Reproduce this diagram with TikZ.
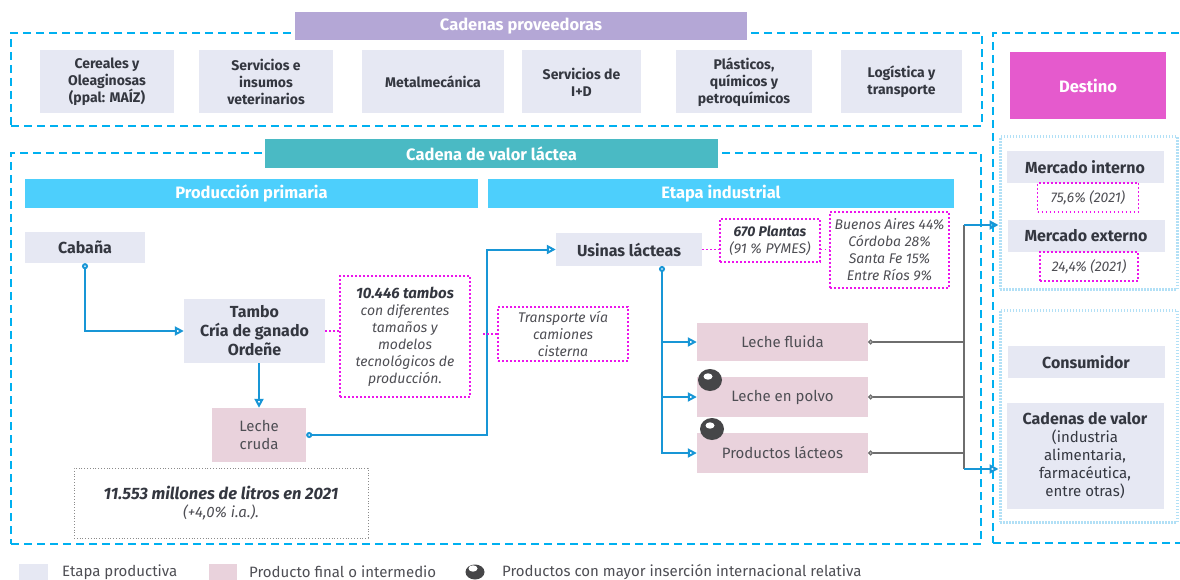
\documentclass[tikz,border=0pt]{standalone}
\usepackage{fontspec}
\setmainfont{Fira Sans}
\usetikzlibrary{arrows.meta,shapes.geometric}

\definecolor{etapa}{RGB}{230,232,243}
\definecolor{producto}{RGB}{233,210,220}
\definecolor{lila}{RGB}{180,167,214}
\definecolor{verdeagua}{RGB}{74,186,196}
\definecolor{celeste}{RGB}{77,207,252}
\definecolor{cian}{RGB}{0,176,240}
\definecolor{cianclaro}{RGB}{178,224,246}
\definecolor{fucsia}{RGB}{236,20,236}
\definecolor{destino}{RGB}{229,90,205}
\definecolor{azul}{RGB}{24,150,214}
\definecolor{gris}{RGB}{110,110,110}
\definecolor{texto}{RGB}{52,55,64}
\definecolor{textonota}{RGB}{78,78,84}
\definecolor{bola}{RGB}{70,70,72}

\begin{document}
\begin{tikzpicture}[x=1pt,y=-1pt,
    every node/.style={inner sep=0pt, align=center, text=texto},
    caja/.style 2 args={minimum width=#1pt, minimum height=#2pt},
    etapa/.style={fill=etapa, font=\fontsize{16}{19}\selectfont\bfseries},
    proveedor/.style={fill=etapa, font=\fontsize{14}{17}\selectfont\bfseries},
    producto/.style={fill=producto, text=textonota, font=\fontsize{15}{18}\selectfont},
    banda/.style={text=white, font=\fontsize{16.5}{19}\selectfont\bfseries},
    nota/.style={draw=fucsia, line width=1.8pt, dash pattern=on 1.8pt off 2.2pt,
      text=textonota, font=\fontsize{14}{17}\selectfont\itshape},
    marco/.style={draw=cian, line width=2.5pt, dash pattern=on 8pt off 5pt},
    marcoclaro/.style={draw=cianclaro, line width=3pt, dash pattern=on 1.5pt off 1.5pt},
    flujo/.style={draw=azul, line width=2pt, -{Triangle[open,length=9pt,width=9pt]}},
    salida/.style={draw=azul, line width=2pt,
      {Circle[open,length=6pt]}-{Triangle[open,length=9pt,width=9pt]}},
    cable/.style={draw=gris, line width=1.3pt},
    enlace/.style={draw=fucsia, line width=1.5pt, dash pattern=on 1.5pt off 2.5pt},
    bolita/.style={ellipse, fill=bola, path picture={
        \fill[white] ([xshift=-2pt,yshift=3.5pt]path picture bounding box.center)
          ellipse (4.5pt and 3.2pt);}},
    leyenda/.style={text=textonota, font=\fontsize{15}{17}\selectfont}]

  \useasboundingbox (0,0) rectangle (1180,580);

  % marcos
  \node[marco, caja={971}{93}] (proveedoras) at (496.5,79.5) {};
  \node[marco, caja={970}{391}] (lactea) at (496,348.5) {};
  \node[marco, caja={189}{510}] (destinos) at (1087.5,288) {};
  \node[marcoclaro, caja={177}{152}] (mercados) at (1088.5,213) {};
  \node[marcoclaro, caja={177}{212}] (usos) at (1088.5,416) {};

  % bandas
  \node[banda, fill=lila, caja={452}{28}] (bandaprov) at (521,26) {Cadenas proveedoras};
  \node[banda, fill=verdeagua, caja={453}{29}] (bandalactea) at (491.5,153.5) {Cadena de valor láctea};
  \node[banda, fill=celeste, caja={453}{29}] (bandaprim) at (251.5,193.5) {Producción primaria};
  \node[banda, fill=celeste, caja={466}{29}] (bandaind) at (721,193.5) {Etapa industrial};
  \node[banda, fill=destino, caja={156}{67}, font=\fontsize{16.5}{19}\selectfont\bfseries] (destino) at (1088,85.5) {Destino};

  \begin{scope}[every node/.append style={proveedor}]
    \node[caja={134}{63}] (cereales) at (107,82) {Cereales y\\Oleaginosas\\(ppal: MAÍZ)};
    \node[caja={134}{63}] (veterinarios) at (266,82) {Servicios e\\insumos\\veterinarios};
    \node[caja={142}{63}] (metalmecanica) at (433,82) {Metalmecánica};
    \node[caja={119}{63}] (imasd) at (581.5,82) {Servicios de\\I+D};
    \node[caja={136}{63}] (plasticos) at (744,82) {Plásticos,\\químicos y\\petroquímicos};
    \node[caja={121}{63}] (logistica) at (901.5,82) {Logística y\\transporte};
  \end{scope}

  \node[etapa, caja={157}{32}] (interno) at (1085,167) {Mercado interno};
  \node[nota, caja={101}{29}] (pctinterno) at (1088,197.5) {75,6\% (2021)};
  \node[etapa, caja={157}{32}] (externo) at (1086,236) {Mercado externo};
  \node[nota, caja={98}{29}] (pctexterno) at (1089,266.5) {24,4\% (2021)};
  \node[etapa, caja={157}{32}] (consumidor) at (1086,362) {Consumidor};
  \node[etapa, caja={157}{106}, font=\fontsize{15}{18}\selectfont] (cadenas) at (1085,456)
    {\textbf{\fontsize{16}{18}\selectfont Cadenas de valor}\\(industria\\alimentaria,\\farmacéutica,\\entre otras)};

  \node[etapa, caja={120}{31}] (cabana) at (85,247.5) {Cabaña};
  \node[etapa, caja={141}{64}] (tambo) at (254.5,331) {Tambo\\Cría de ganado\\Ordeñe};
  \node[nota, caja={130}{121}] (tambos) at (405,336.5)
    {\textbf{\color{texto}\fontsize{15}{17}\selectfont 10.446 tambos}\\con diferentes\\tamaños y\\modelos\\tecnológicos de\\producción.};
  \node[producto, caja={94}{54}, font=\fontsize{15}{18}\selectfont] (cruda) at (259,435) {Leche\\cruda};
  \node[draw=gris!80, line width=1pt, dash pattern=on 1pt off 1.8pt, caja={294}{70},
    text=textonota, font=\fontsize{15}{18}\selectfont\itshape] (litros) at (221,503)
    {\textbf{\color{texto}\fontsize{16.5}{18}\selectfont 11.553 millones de litros en 2021}\\(+4,0\% i.a.).};
  \node[nota, caja={130}{54}] (transporte) at (563,334) {Transporte vía\\camiones\\cisterna};
  \node[etapa, caja={146}{33}] (usinas) at (629,249.5) {Usinas lácteas};
  \node[nota, caja={100}{43}] (plantas) at (770,240.5) {\textbf{\color{texto}670 Plantas}\\(91 \% PYMES)};
  \node[nota, caja={119}{76}] (provincias) at (889.5,250)
    {Buenos Aires 44\%\\Córdoba 28\%\\Santa Fe 15\%\\Entre Ríos 9\%};

  \node[producto, caja={171}{38}] (fluida) at (782.5,342) {Leche fluida};
  \node[producto, caja={171}{40}] (polvo) at (782.5,397) {Leche en polvo};
  \node[producto, caja={171}{40}] (lacteos) at (782.5,453) {Productos lácteos};
  \node[bolita, caja={24}{22}] (bola1) at (710,380) {};
  \node[bolita, caja={24}{22}] (bola2) at (712,429) {};

  \coordinate (cruce) at (487,0);
  \coordinate (toma) at (662,266);
  \coordinate (bus) at (964,0);
  \coordinate (arriba) at (964,225);
  \coordinate (abajo) at (964,469);

  \draw[salida] (cabana.south) |- (tambo.west);
  \draw[flujo] (tambo.south -| cruda.north) -- (cruda.north);
  \draw[salida] (cruda.east) -| (cruce |- usinas.west) -- (usinas.west);
  \draw[salida] (toma) |- (lacteos.west);
  \draw[flujo] (toma |- fluida.west) -- (fluida.west);
  \draw[flujo] (toma |- polvo.west) -- (polvo.west);

  \foreach \p in {fluida,polvo,lacteos}
    \draw[cable, {Circle[open,length=5pt]}-] (\p.east) -- (\p.east -| bus);
  \draw[cable] (arriba) -- (abajo);
  \draw[flujo] (arriba) -- (arriba -| mercados.west);
  \draw[flujo] (abajo) -- (abajo -| usos.west);

  \draw[enlace] (tambo.east) -- (tambo.east -| tambos.west);
  \draw[enlace] ([xshift=-4pt]transporte.west -| cruce) -- (transporte.west);
  \draw[enlace] (usinas.east) -- (usinas.east -| plantas.west);
  \draw[enlace] (usinas.east -| plantas.east) -- (usinas.east -| provincias.west);

  % leyenda
  \node[fill=etapa, caja={29}{16}] (leyetapa) at (33.5,572) {};
  \node[leyenda, anchor=west] (txtetapa) at (62,572) {Etapa productiva};
  \node[fill=producto, caja={28}{16}] (leyproducto) at (223,572) {};
  \node[leyenda, anchor=west] (txtproducto) at (249,572) {Producto final o intermedio};
  \node[bolita, caja={19}{15}] (leybola) at (475,572) {};
  \node[leyenda, anchor=west] (txtbola) at (502,572) {Productos con mayor inserción internacional relativa};

\end{tikzpicture}
\end{document}
